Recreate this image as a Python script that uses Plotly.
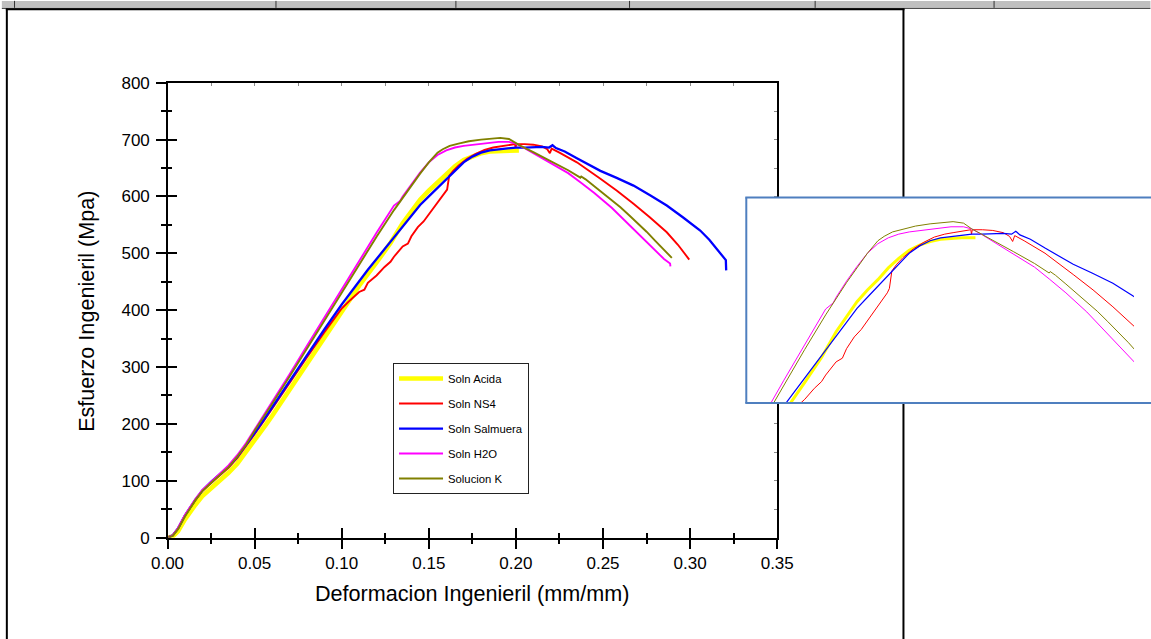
import plotly.graph_objects as go

# Figure size, and how frame positions (given below in pixels of the final
# 1151x639 view) map onto the figure: the page adds an 8px body margin and
# the view is shown at a slight zoom.
W, H = 1151, 639
PAD = 8
VIEW_ZOOM = 0.9725
VIEW_DX, VIEW_DY = 7.4, 0.35

# ---------------- data: engineering strain (mm/mm) vs engineering stress (MPa)
acida_x = [0, 0.003, 0.006, 0.010, 0.016, 0.020, 0.025, 0.030, 0.035, 0.040, 0.045, 0.050,
           0.0568, 0.060, 0.070, 0.075, 0.080, 0.090, 0.100, 0.110, 0.120, 0.128, 0.135,
           0.140, 0.145, 0.150, 0.155, 0.160, 0.165, 0.170, 0.175, 0.180, 0.185, 0.190,
           0.195, 0.2017]
acida_y = [0, 2, 11, 32, 58, 73, 87, 100, 114, 130, 150, 170,
           200, 214, 260, 284, 307, 353, 400, 443, 484, 518, 553,
           574, 594, 610, 624, 640, 653, 664, 671, 676, 679, 680,
           681, 681]

ns4_x = [0, 0.003, 0.006, 0.010, 0.016, 0.020, 0.025, 0.030, 0.035, 0.040, 0.045, 0.050,
         0.055, 0.060, 0.070, 0.080, 0.090, 0.100, 0.105, 0.110, 0.113, 0.115, 0.120,
         0.1246, 0.128, 0.130, 0.135, 0.138, 0.140, 0.1437, 0.147, 0.150, 0.154, 0.157,
         0.1595, 0.1605, 0.1617, 0.164, 0.167, 0.172, 0.177, 0.182, 0.187, 0.191, 0.196,
         0.1995, 0.1998, 0.2002, 0.205, 0.210, 0.215, 0.218, 0.2195, 0.2205, 0.225,
         0.235, 0.2485, 0.258, 0.2675, 0.277, 0.2866, 0.293, 0.2995]
ns4_y = [0, 4, 16, 39, 66, 82, 96, 109, 123, 140, 160, 182,
         204, 227, 272, 317, 361, 403, 418, 432, 436, 448, 461,
         476, 485, 494, 512, 517, 530, 546, 556, 568, 584, 596,
         606, 612, 636, 645, 654, 666, 675, 682, 686, 688, 690,
         692, 686, 692, 692, 691, 688, 683, 676, 684, 677,
         660, 631, 610, 587, 563, 537, 515, 489]

salm_x = [0, 0.003, 0.006, 0.010, 0.016, 0.020, 0.025, 0.030, 0.035, 0.040, 0.045, 0.050,
          0.055, 0.060, 0.070, 0.080, 0.090, 0.100, 0.105, 0.110, 0.115, 0.120, 0.125,
          0.130, 0.135, 0.140, 0.145, 0.150, 0.155, 0.160, 0.165, 0.170, 0.175, 0.180,
          0.185, 0.190, 0.195, 0.200, 0.205, 0.210, 0.215, 0.219, 0.221, 0.223, 0.228,
          0.235, 0.2485, 0.2575, 0.2675, 0.277, 0.2866, 0.296, 0.3058, 0.311, 0.3152,
          0.318, 0.3205, 0.3207]
salm_y = [0, 4, 16, 39, 67, 83, 98, 111, 125, 142, 162, 184,
          206, 229, 275, 321, 366, 410, 431, 452, 471, 490, 509,
          528, 546, 566, 585, 600, 615, 630, 645, 660, 670, 677,
          681, 683, 685, 686, 686, 687, 687, 686, 690, 685, 679,
          667, 645, 633, 619, 602, 584, 563, 540, 524, 508,
          497, 488, 470]

h2o_x = [0, 0.003, 0.006, 0.010, 0.016, 0.020, 0.025, 0.030, 0.035, 0.040, 0.045, 0.050,
         0.055, 0.060, 0.070, 0.080, 0.090, 0.100, 0.110, 0.120, 0.130, 0.1335, 0.135,
         0.140, 0.145, 0.150, 0.155, 0.160, 0.165, 0.170, 0.180, 0.190, 0.196, 0.200,
         0.205, 0.210, 0.220, 0.230, 0.237, 0.245, 0.255, 0.2675, 0.275, 0.280, 0.285,
         0.2885, 0.2887]
h2o_y = [0, 4, 17, 40, 68, 84, 98, 112, 127, 145, 166, 190,
         214, 238, 287, 337, 387, 437, 487, 536, 584, 592, 600,
         622, 642, 660, 673, 681, 686, 689, 693, 696, 696, 693,
         685, 676, 659, 641, 625, 606, 580, 542, 520, 504, 490,
         482, 477]

solk_x = [0, 0.003, 0.006, 0.010, 0.016, 0.020, 0.025, 0.030, 0.035, 0.040, 0.045, 0.050,
          0.055, 0.060, 0.070, 0.080, 0.090, 0.100, 0.110, 0.120, 0.130, 0.135, 0.140,
          0.145, 0.150, 0.155, 0.158, 0.162, 0.167, 0.173, 0.180, 0.186, 0.191, 0.196,
          0.200, 0.2027, 0.210, 0.220, 0.230, 0.237, 0.2375, 0.240, 0.245, 0.250, 0.255,
          0.260, 0.265, 0.270, 0.275, 0.280, 0.285, 0.2895]
solk_y = [0, 3, 15, 37, 66, 82, 96, 110, 124, 142, 163, 188,
          211, 235, 283, 332, 381, 431, 481, 529, 576, 598, 620,
          640, 660, 677, 683, 689, 693, 697, 700, 702, 703, 701,
          693, 689, 678, 662, 646, 633, 635, 630, 618, 606, 594,
          581, 567, 553, 538, 522, 507, 492]

series = [
    ("Soln Acida", acida_x, acida_y, "#ffff00", 4.6, 3),
    ("Soln NS4", ns4_x, ns4_y, "#ff0000", 1.9, 1),
    ("Soln Salmuera", salm_x, salm_y, "#0000ff", 2.3, 1.2),
    ("Soln H2O", h2o_x, h2o_y, "#ff00ff", 1.9, 1),
    ("Solucion K", solk_x, solk_y, "#808000", 1.9, 1),
]

x_ticks = [0.0, 0.05, 0.10, 0.15, 0.20, 0.25, 0.30, 0.35]
y_ticks = [0, 100, 200, 300, 400, 500, 600, 700, 800]
x_range = [0, 0.35]
y_range = [0, 800]
inset_x_range = [0.092, 0.2776]
inset_y_range = [456, 736]


def px(x):
    """view pixel column -> paper fraction"""
    return ((x - VIEW_DX) / VIEW_ZOOM - PAD) / W


def py(y):
    """view pixel row -> paper fraction"""
    return 1 - ((y - VIEW_DY) / VIEW_ZOOM - PAD) / H


FONT = "Arial, Liberation Sans, sans-serif"
TICK_SIZE = 17
TITLE_SIZE = 21.6
LEGEND_SIZE = 11.3

fig = go.Figure()

for name, xs, ys, color, lw, lw_inset in series:
    fig.add_trace(go.Scatter(
        x=xs, y=ys, mode="lines", name=name, legendgroup=name,
        line=dict(color=color, width=lw), xaxis="x", yaxis="y",
        hoverinfo="skip"))

# magnified view of the yield / peak region
for name, xs, ys, color, lw, lw_inset in series:
    fig.add_trace(go.Scatter(
        x=xs, y=ys, mode="lines", name=name, legendgroup=name, showlegend=False,
        line=dict(color=color, width=lw_inset), xaxis="x3", yaxis="y3",
        hoverinfo="skip"))

# carriers for the inner-tick and border-tick overlay axes
fig.add_trace(go.Scatter(x=[], y=[], xaxis="x2", yaxis="y2", showlegend=False))
fig.add_trace(go.Scatter(x=[], y=[], xaxis="x4", yaxis="y4", showlegend=False))

dom_x = [px(166), px(777)]
dom_y = [py(538), py(82)]

axis_common = dict(showgrid=False, zeroline=False, fixedrange=True)
TL, TLm = 9.3, 4.5

fig.update_layout(
    width=W, height=H,
    margin=dict(l=0, r=0, t=0, b=0),
    paper_bgcolor="white", plot_bgcolor="white",
    font=dict(family=FONT, color="black"),
    showlegend=True,
    xaxis=dict(
        domain=dom_x, range=x_range, tickvals=x_ticks, tickformat=".2f",
        ticks="outside", ticklen=TL, tickwidth=2, tickcolor="black",
        showline=True, linewidth=2, linecolor="black", mirror=True,
        tickfont=dict(size=TICK_SIZE, family=FONT),
        minor=dict(dtick=0.025, tick0=0, ticks="outside", ticklen=TLm, tickwidth=2, tickcolor="black"),
        anchor="y", **axis_common),
    yaxis=dict(
        domain=dom_y, range=y_range, tickvals=y_ticks,
        ticks="outside", ticklen=TL, tickwidth=2, tickcolor="black",
        showline=True, linewidth=2, linecolor="black", mirror=True,
        tickfont=dict(size=TICK_SIZE, family=FONT), ticklabelstandoff=3,
        minor=dict(dtick=50, tick0=0, ticks="outside", ticklen=TLm, tickwidth=2, tickcolor="black"),
        anchor="x", **axis_common),
    xaxis2=dict(
        overlaying="x", anchor="y2", side="bottom", range=x_range, tickvals=x_ticks,
        ticks="inside", ticklen=TL, tickwidth=2, tickcolor="black", showticklabels=False,
        showline=False,
        minor=dict(dtick=0.025, tick0=0, ticks="inside", ticklen=TLm, tickwidth=2, tickcolor="black"),
        **axis_common),
    yaxis2=dict(
        overlaying="y", anchor="x2", side="left", range=y_range, tickvals=y_ticks,
        ticks="inside", ticklen=TL, tickwidth=2, tickcolor="black", showticklabels=False,
        showline=False,
        minor=dict(dtick=50, tick0=0, ticks="inside", ticklen=TLm, tickwidth=2, tickcolor="black"),
        **axis_common),
    xaxis4=dict(
        overlaying="x", anchor="y4", side="top", range=x_range, dtick=0.025, tick0=0,
        ticks="inside", ticklen=3, tickwidth=1, tickcolor="#8a8a8a", showticklabels=False,
        showline=False, **axis_common),
    yaxis4=dict(
        overlaying="y", anchor="x4", side="right", range=y_range, dtick=50, tick0=0,
        ticks="inside", ticklen=3, tickwidth=1, tickcolor="#8a8a8a", showticklabels=False,
        showline=False, **axis_common),
    xaxis3=dict(domain=[px(746), 1.0], range=inset_x_range, visible=False, anchor="y3",
                **axis_common),
    yaxis3=dict(domain=[py(403), py(197)], range=inset_y_range, visible=False, anchor="x3",
                **axis_common),
    legend=dict(
        x=px(392), y=py(363), xanchor="left", yanchor="top",
        bgcolor="white", bordercolor="#222222", borderwidth=1,
        font=dict(size=LEGEND_SIZE, family=FONT, color="black"),
        itemwidth=44, tracegroupgap=6, traceorder="grouped",
        itemclick=False, itemdoubleclick=False),
)

shapes = []
# spreadsheet header strip
shapes.append(dict(type="rect", xref="paper", yref="paper", x0=px(0), x1=px(1151), y0=py(7),
                   y1=py(0), fillcolor="#c0c0c0", line=dict(width=0), layer="below"))
shapes.append(dict(type="line", xref="paper", yref="paper", x0=px(0), x1=px(1151),
                   y0=py(7.5), y1=py(7.5), line=dict(color="#333333", width=1), layer="below"))
for cx in [12.7, 274.7, 455, 629, 815, 994.3]:
    shapes.append(dict(type="line", xref="paper", yref="paper", x0=px(cx), x1=px(cx),
                       y0=py(0), y1=py(7), line=dict(color="#333333", width=1), layer="below"))
# chart object frame (runs off the bottom of the page)
shapes.append(dict(type="line", xref="paper", yref="paper", x0=px(4), x1=px(904.5),
                   y0=py(8.5), y1=py(8.5), line=dict(color="black", width=2), layer="below"))
shapes.append(dict(type="line", xref="paper", yref="paper", x0=px(5), x1=px(5),
                   y0=py(8), y1=py(645), line=dict(color="black", width=2), layer="below"))
shapes.append(dict(type="line", xref="paper", yref="paper", x0=px(903.5), x1=px(903.5),
                   y0=py(8), y1=py(645), line=dict(color="black", width=2), layer="below"))
# inset background (drawn inside the inset subplot so it hides what lies beneath)
shapes.append(dict(type="rect", xref="x3", yref="y3",
                   x0=inset_x_range[0] - 0.01, x1=inset_x_range[1] + 0.01,
                   y0=inset_y_range[0] - 20, y1=inset_y_range[1] + 20,
                   fillcolor="white", line=dict(width=0), layer="below"))
# inset border (open on the right, where it runs off the page)
border = dict(color="#4f7fbf", width=2)
shapes.append(dict(type="line", xref="paper", yref="paper", x0=px(746), x1=px(746),
                   y0=py(197), y1=py(403), line=border, layer="above"))
shapes.append(dict(type="line", xref="paper", yref="paper", x0=px(745), x1=px(1160),
                   y0=py(197), y1=py(197), line=border, layer="above"))
shapes.append(dict(type="line", xref="paper", yref="paper", x0=px(745), x1=px(1160),
                   y0=py(403), y1=py(403), line=border, layer="above"))
fig.update_layout(shapes=shapes)

fig.add_annotation(text="Deformacion Ingenieril (mm/mm)", xref="paper", yref="paper",
                   x=px(471.5), y=py(594), xanchor="center", yanchor="middle",
                   showarrow=False, font=dict(size=TITLE_SIZE, family=FONT, color="black"))
fig.add_annotation(text="Esfuerzo Ingenieril (Mpa)", xref="paper", yref="paper",
                   x=px(85), y=py(311), xanchor="center", yanchor="middle", textangle=-90,
                   showarrow=False, font=dict(size=TITLE_SIZE, family=FONT, color="black"))

fig.write_html("out.html", config={"displayModeBar": False})
